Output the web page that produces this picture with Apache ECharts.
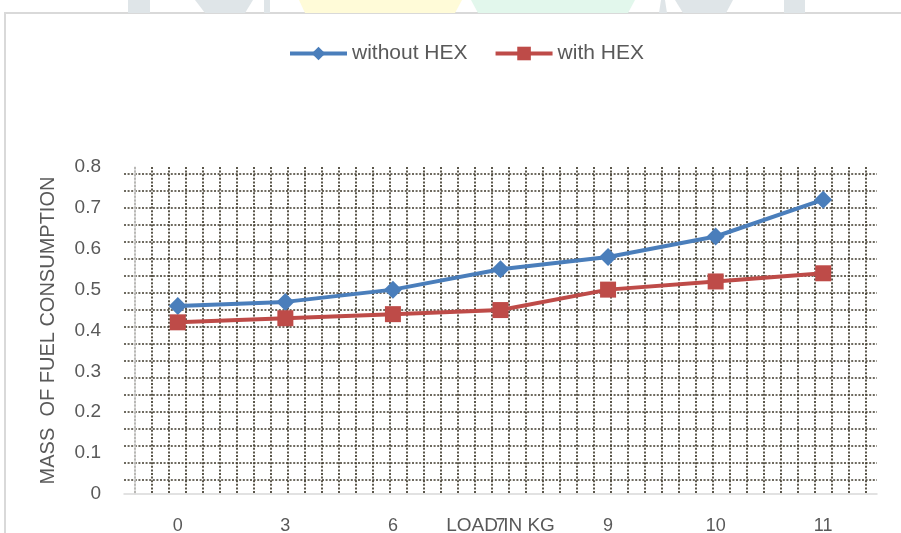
<!DOCTYPE html>
<html>
<head>
<meta charset="utf-8">
<script src="https://cdn.jsdelivr.net/npm/echarts@6/dist/echarts.min.js"></script>
<style>html,body{margin:0;padding:0;background:#fff}#c{width:901px;height:533px}</style>
</head>
<body>
<div id="c"></div>
<script>
var categories = ['0', '3', '6', '7', '9', '10', '11'];
var withoutHex = [0.46, 0.47, 0.50, 0.55, 0.58, 0.63, 0.72];
var withHex = [0.42, 0.43, 0.44, 0.45, 0.50, 0.52, 0.54];
var yTicks = [0, 0.1, 0.2, 0.3, 0.4, 0.5, 0.6, 0.7, 0.8];

// decorative dotted pattern grid (cell positions)
var patV = [], patH = [];
for (var i = 0; i <= 43; i++) patV.push(i);
for (var j = 0; j <= 18; j++) patH.push(j);

var FONT = 'Liberation Sans';
var chart = echarts.init(document.getElementById('c'));
var dotted = { color: '#3f3a2c', width: 1.7, type: [2, 1.6] };
chart.setOption({
  animation: false,
  backgroundColor: '#fff',
  textStyle: { fontFamily: FONT },
  graphic: [
    { type: 'rect', shape: { x: 128, y: 0, width: 22, height: 13 }, style: { fill: '#dfe5e8' }, silent: true },
    { type: 'polygon', shape: { points: [[195, 0], [253, 0], [245, 13], [205, 13]] }, style: { fill: '#dfe5e8' }, silent: true },
    { type: 'rect', shape: { x: 264, y: 0, width: 6, height: 13 }, style: { fill: '#dfe5e8' }, silent: true },
    { type: 'polygon', shape: { points: [[299, 0], [462, 0], [455, 13], [305, 13]] }, style: { fill: '#fffbd8' }, silent: true },
    { type: 'polygon', shape: { points: [[471, 0], [635, 0], [628, 13], [478, 13]] }, style: { fill: '#e2f7ec' }, silent: true },
    { type: 'polygon', shape: { points: [[661, 0], [665, 0], [667, 13], [659, 13]] }, style: { fill: '#dfe5e8' }, silent: true },
    { type: 'polygon', shape: { points: [[675, 0], [733, 0], [726, 13], [683, 13]] }, style: { fill: '#dfe5e8' }, silent: true },
    { type: 'rect', shape: { x: 784, y: 0, width: 21, height: 13 }, style: { fill: '#dfe5e8' }, silent: true },
    { type: 'rect', shape: { x: 5, y: 13, width: 920, height: 560 }, style: { fill: '#fff', stroke: '#d9d9d9', lineWidth: 2 }, silent: true, z: -1 }
  ],
  legend: {
    left: 288, top: 43, padding: 0,
    itemWidth: 57, itemHeight: 17, itemGap: 26,
    lineStyle: { width: 4 },
    textStyle: { fontSize: 21, color: '#595959', fontFamily: FONT },
    data: ['without HEX', 'with HEX']
  },
  grid: { left: 124, right: 24, top: 167, bottom: 39, containLabel: false, outerBoundsMode: 'none' },
  xAxis: [
    {
      type: 'category', data: categories, boundaryGap: true,
      axisLine: { lineStyle: { color: '#d9d9d9', width: 1.5 } },
      axisTick: { show: false },
      axisLabel: { fontSize: 18, color: '#595959', margin: 23, fontFamily: FONT },
      splitLine: { show: false },
      name: 'LOAD IN KG', nameLocation: 'middle', nameGap: 22, nameMoveOverlap: false,
      nameTextStyle: { fontSize: 19, color: '#595959', fontFamily: FONT }
    },
    {
      type: 'value', position: 'top', min: -11 / 17, max: 43 + 11 / 17,
      axisLine: { show: false }, axisLabel: { show: false },
      axisTick: { show: false, customValues: patV },
      splitLine: { show: true, lineStyle: dotted }
    }
  ],
  yAxis: [
    {
      type: 'value', min: 0, max: 0.8, interval: 0.1,
      axisLine: { show: true, lineStyle: { color: '#d9d9d9', width: 1.5 } },
      axisTick: { show: false },
      axisLabel: { fontSize: 19, color: '#595959', margin: 23, fontFamily: FONT,
        formatter: function (v) { var t = yTicks.filter(function (x) { return Math.abs(x - v) < 1e-9; }); return t.length ? String(+v.toFixed(1)) : ''; } },
      splitLine: { show: false },
      name: 'MASS  OF FUEL CONSUMPTION', nameLocation: 'middle', nameGap: 66, nameMoveOverlap: false,
      nameTextStyle: { fontSize: 20, color: '#595959', fontFamily: FONT }
    },
    {
      type: 'value', position: 'right', min: -14 / 17, max: 18 + 7 / 17,
      axisLine: { show: false }, axisLabel: { show: false },
      axisTick: { show: false, customValues: patH },
      splitLine: { show: true, lineStyle: dotted }
    }
  ],
  series: [
    {
      name: 'without HEX', type: 'line', data: withoutHex,
      symbol: 'diamond', symbolSize: 18,
      lineStyle: { color: '#4a7ebb', width: 4 },
      itemStyle: { color: '#4a7ebb' }, z: 3
    },
    {
      name: 'with HEX', type: 'line', data: withHex,
      symbol: 'rect', symbolSize: 16,
      lineStyle: { color: '#be4b48', width: 4 },
      itemStyle: { color: '#be4b48' }, z: 3
    }
  ]
});
</script>
</body>
</html>
